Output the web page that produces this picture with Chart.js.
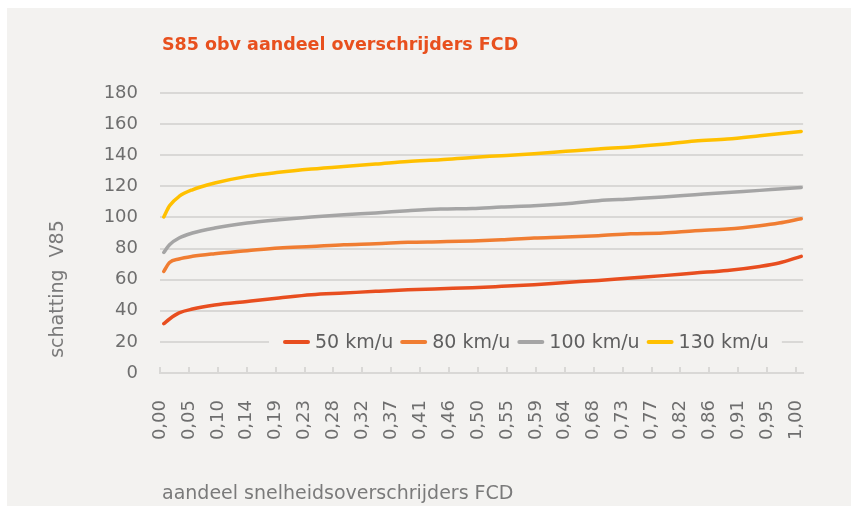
<!DOCTYPE html>
<html lang="nl">

<head>
    <meta charset="UTF-8">
    <title>S85 obv aandeel overschrijders FCD</title>
    <script src="https://cdn.jsdelivr.net/npm/chart.js"></script>
    <style>
        html, body { margin: 0; padding: 0; background: #ffffff; }
        #panel { position: absolute; left: 7px; top: 8px; width: 844px; height: 498px; background: #f3f2f0; }
    </style>
</head>

<body>
    <div id="panel">
        <canvas id="myChart" width="844" height="498"></canvas>
    </div>

    <script>
        // aandeel snelheidsoverschrijders (x) and estimated V85 per speed limit
        const shares = [0.006, 0.015, 0.030, 0.051, 0.086, 0.137, 0.187, 0.238, 0.289, 0.339, 0.390, 0.441,
            0.491, 0.537, 0.588, 0.638, 0.689, 0.740, 0.791, 0.841, 0.892, 0.943, 0.973, 1.008];
        const v50 = [31.7, 34.7, 38.6, 41.1, 43.7, 46.0, 48.2, 50.3, 51.4, 52.5, 53.5, 54.2,
            54.8, 55.7, 56.8, 58.2, 59.5, 61.1, 62.6, 64.3, 65.9, 68.5, 70.7, 75.0];
        const v80 = [65.3, 71.0, 73.3, 75.0, 76.7, 78.6, 80.4, 81.4, 82.5, 83.1, 84.0, 84.4,
            84.9, 85.7, 86.8, 87.4, 88.3, 89.5, 90.0, 91.5, 92.6, 94.7, 96.4, 99.2];
        const v100 = [77.5, 82.5, 86.8, 90.0, 93.2, 96.4, 98.5, 100.3, 101.8, 102.9, 104.3, 105.4,
            105.8, 106.7, 107.5, 108.8, 110.8, 111.9, 113.1, 114.6, 116.1, 117.4, 118.3, 119.3];
        const v130 = [100.3, 107.5, 113.5, 117.8, 122.1, 126.4, 129.0, 131.1, 132.8, 134.3, 136.0, 137.1,
            138.6, 139.7, 141.0, 142.5, 144.0, 145.3, 147.0, 149.1, 150.4, 152.5, 153.8, 155.3];

        const seriesNames = ['50 km/u', '80 km/u', '100 km/u', '130 km/u'];
        const seriesColors = ['#e84e1f', '#f07d32', '#a5a5a5', '#ffc000'];

        const xLabels = ['0,00', '0,05', '0,10', '0,14', '0,19', '0,23', '0,28', '0,32', '0,37', '0,41', '0,46', '0,50',
            '0,55', '0,59', '0,64', '0,68', '0,73', '0,77', '0,82', '0,86', '0,91', '0,95', '1,00'];
        const yTicks = [0, 20, 40, 60, 80, 100, 120, 140, 160, 180];

        const chartTitle = 'S85 obv aandeel overschrijders FCD';
        const xTitle = 'aandeel snelheidsoverschrijders FCD';
        const yTitle = 'schatting  V85';

        const FONT = 'DejaVu Sans';
        const TEXT_GREY = '#6e6e6e';
        const GRID = '#d9d8d6';

        function toPoints(values) {
            return values.map((v, i) => ({ x: shares[i], y: v }));
        }

        // titles and the legend sitting inside the plot
        const decorations = {
            id: 'decorations',
            afterDraw(chart) {
                const ctx = chart.ctx;
                const area = chart.chartArea;
                ctx.save();

                ctx.fillStyle = '#e8501e';
                ctx.font = 'bold 17.5px "' + FONT + '"';
                ctx.textBaseline = 'middle';
                ctx.textAlign = 'left';
                ctx.fillText(chartTitle, area.left + 2, 37);

                ctx.fillStyle = '#7a7a7a';
                ctx.font = '19px "' + FONT + '"';
                ctx.textBaseline = 'alphabetic';
                ctx.fillText(xTitle, area.left + 2, 491);

                ctx.save();
                ctx.translate(51, 281);
                ctx.rotate(-Math.PI / 2);
                ctx.textAlign = 'center';
                ctx.textBaseline = 'middle';
                ctx.fillText(yTitle, 0, 0);
                ctx.restore();

                // legend
                const yc = chart.scales.y.getPixelForValue(20);
                ctx.font = '19px "' + FONT + '"';
                let x = area.left + 123;
                const items = [];
                seriesNames.forEach((name, i) => {
                    const w = ctx.measureText(name).width;
                    items.push({ x, name, color: seriesColors[i] });
                    x += 27 + 6 + w + 6;
                });
                ctx.fillStyle = '#f3f2f0';
                ctx.fillRect(area.left + 109, yc - 10, x - 6 + 12 - (area.left + 109), 20);

                items.forEach(it => {
                    ctx.strokeStyle = it.color;
                    ctx.lineWidth = 4;
                    ctx.lineCap = 'round';
                    ctx.beginPath();
                    ctx.moveTo(it.x + 2, yc);
                    ctx.lineTo(it.x + 25, yc);
                    ctx.stroke();
                    ctx.fillStyle = '#5f5f5f';
                    ctx.textAlign = 'left';
                    ctx.textBaseline = 'middle';
                    ctx.fillText(it.name, it.x + 32, yc + 1);
                });
                ctx.restore();
            }
        };

        const ctx = document.getElementById('myChart').getContext('2d');
        const priceChart = new Chart(ctx, {
            type: 'line',
            data: {
                datasets: seriesNames.map((name, i) => ({
                    label: name,
                    data: toPoints([v50, v80, v100, v130][i]),
                    borderColor: seriesColors[i],
                    backgroundColor: seriesColors[i],
                    borderWidth: 3.5,
                    borderCapStyle: 'round',
                    borderJoinStyle: 'round',
                    pointRadius: 0,
                    cubicInterpolationMode: 'monotone',
                    fill: false
                }))
            },
            options: {
                responsive: false,
                animation: false,
                events: [],
                layout: { padding: { top: 85, right: 26, left: 0, bottom: 0 } },
                plugins: {
                    legend: { display: false },
                    title: { display: false },
                    tooltip: { enabled: false }
                },
                scales: {
                    x: {
                        type: 'linear',
                        min: 0,
                        max: 1.011,
                        afterBuildTicks: scale => {
                            scale.ticks = xLabels.map((_, i) => ({ value: i / (xLabels.length - 1) }));
                        },
                        afterFit: scale => { scale.height = 133; },
                        grid: {
                            drawOnChartArea: false,
                            drawTicks: true,
                            tickLength: -6,
                            color: GRID,
                            lineWidth: 2
                        },
                        border: { display: true, color: GRID, width: 2 },
                        ticks: {
                            autoSkip: false,
                            minRotation: 90,
                            maxRotation: 90,
                            padding: 33,
                            color: TEXT_GREY,
                            font: { family: FONT, size: 18 },
                            callback: (value, index) => xLabels[index]
                        }
                    },
                    y: {
                        min: 0,
                        max: 180,
                        afterBuildTicks: scale => {
                            scale.ticks = yTicks.map(v => ({ value: v }));
                        },
                        afterFit: scale => { scale.width = 153; },
                        grid: {
                            color: GRID,
                            lineWidth: 2,
                            drawTicks: false
                        },
                        border: { display: false },
                        ticks: {
                            padding: 22,
                            color: TEXT_GREY,
                            font: { family: FONT, size: 18 }
                        }
                    }
                }
            },
            plugins: [decorations]
        });
    </script>
</body>

</html>
